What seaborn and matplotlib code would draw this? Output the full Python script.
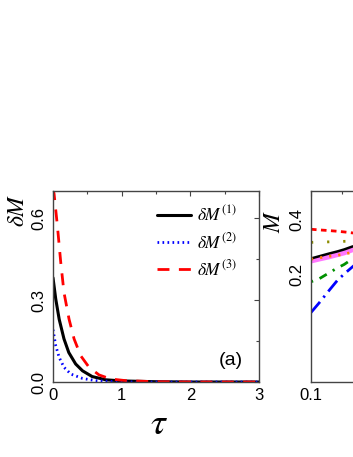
"""Relaxation of the magnetisation deviation, panel (a) plus the clipped left edge of panel (b)."""

import matplotlib
matplotlib.use("Agg")
import matplotlib.pyplot as plt
import matplotlib.ticker as mticker
import pandas as pd
import seaborn as sns


# panel (a): delta M vs tau
TAU_1 = [0.0, 0.04, 0.09, 0.16, 0.23, 0.33, 0.43, 0.57, 0.77, 1.0, 1.5, 2.0, 2.5, 3.0]
DM_1 = [0.382, 0.304, 0.23, 0.158, 0.108, 0.066, 0.041, 0.02, 0.008, 0.004, 0.001, 0.0, 0.0, 0.0]

TAU_2 = [0.0, 0.04, 0.09, 0.16, 0.26, 0.43, 0.62, 0.85, 1.2, 2.0, 3.0]
DM_2 = [0.192, 0.133, 0.09, 0.054, 0.029, 0.013, 0.005, 0.002, 0.0, 0.0, 0.0]

TAU_3 = [0.0, 0.016, 0.064, 0.113, 0.16, 0.234, 0.307, 0.404, 0.525, 0.67, 0.84, 1.06, 1.5, 2.0, 3.0]
DM_3 = [0.71, 0.689, 0.572, 0.438, 0.328, 0.23, 0.158, 0.096, 0.054, 0.026, 0.011, 0.005, 0.001, 0.0, 0.0]

# panel (b): M vs field, only the left edge is visible
B_X = [0.1, 0.12, 0.15, 0.18, 0.21, 0.25, 0.3]
M_RED = [0.355, 0.352, 0.349, 0.346, 0.343, 0.339, 0.335]
M_OLIVE = [0.300, 0.301, 0.302, 0.303, 0.304, 0.305, 0.306]
M_BLACK = [0.244, 0.251, 0.260, 0.267, 0.274, 0.284, 0.292]
M_PINK = [0.236, 0.242, 0.249, 0.256, 0.262, 0.272, 0.280]
M_ORANGE = [0.242, 0.246, 0.251, 0.254, 0.258, 0.264, 0.270]
M_GREEN = [0.181, 0.188, 0.203, 0.216, 0.226, 0.242, 0.258]
M_BLUE = [0.122, 0.138, 0.162, 0.184, 0.200, 0.218, 0.238]

SPINE = "#444444"


def style_axes(ax):
    for side in ax.spines.values():
        side.set_color(SPINE)
        side.set_linewidth(1.0)
    ax.tick_params(which="both", direction="in", top=True, right=True, color=SPINE,
                   labelsize=12, labelcolor="black", width=0.8)
    ax.tick_params(which="major", length=3.5)
    ax.tick_params(which="minor", length=2.5)
    ax.tick_params(axis="x", pad=4)
    ax.tick_params(axis="y", pad=5)


def rotate_y_labels(ax):
    for label in ax.get_yticklabels():
        label.set_rotation(90)
        label.set_va("center")


def draw_panel_a(ax):
    curves = [
        (TAU_1, DM_1, "black", r"$\delta M^{(1)}$"),
        (TAU_2, DM_2, "#0000ff", r"$\delta M^{(2)}$"),
        (TAU_3, DM_3, "#ff0000", r"$\delta M^{(3)}$"),
    ]
    for x, y, color, label in curves:
        df = pd.DataFrame({"tau": x, "dm": y})
        sns.lineplot(data=df, x="tau", y="dm", color=color, label=label, ax=ax, lw=2.2)
    lines = ax.get_lines()
    lines[1].set_dashes((0.6, 1.2))
    lines[1].set_linewidth(2.0)
    lines[2].set_dashes((4.3, 3.4))
    lines[2].set_linewidth(2.0)

    ax.set_xlim(0, 3)
    ax.set_ylim(0, 0.7)
    ax.xaxis.set_major_locator(mticker.MultipleLocator(1))
    ax.xaxis.set_minor_locator(mticker.MultipleLocator(0.5))
    ax.yaxis.set_major_locator(mticker.MultipleLocator(0.3))
    ax.yaxis.set_minor_locator(mticker.MultipleLocator(0.15))
    ax.xaxis.set_major_formatter(mticker.FormatStrFormatter("%d"))
    ax.yaxis.set_major_formatter(mticker.FormatStrFormatter("%.1f"))
    style_axes(ax)
    rotate_y_labels(ax)

    ax.set_xlabel(r"$\tau$", fontsize=27, color="black")
    ax.xaxis.label.set_va("center")
    ax.xaxis.set_label_coords(0.515, -0.22)
    ax.set_ylabel(r"$\delta M$", fontsize=17, color="black")
    ax.yaxis.label.set_va("center")
    ax.yaxis.set_label_coords(-0.17, 0.9)

    leg = ax.legend(loc="upper left", bbox_to_anchor=(0.503, 0.93), frameon=False, fontsize=12.5,
                    handlelength=2.0, handletextpad=0.3, labelspacing=0.4, borderpad=0,
                    borderaxespad=0)
    for text in leg.get_texts():
        text.set_color("black")
    ax.text(0.864, 0.11, "(a)", transform=ax.transAxes, ha="center", va="center",
            fontsize=14, color="black")


def draw_panel_b(ax):
    ax.set_xscale("log")
    ax.set_yscale("log")
    series = [
        (M_PINK, "#ff77ff", "-", 3.5),
        (M_BLACK, "black", "-", 1.8),
        (M_RED, "#ff0000", "--", 2.0),
        (M_OLIVE, "#8c8c00", ":", 2.0),
        (M_ORANGE, "#ff7f00", ":", 2.0),
        (M_GREEN, "#009000", "-.", 2.0),
        (M_BLUE, "#0000ff", "-.", 2.0),
    ]
    for y, color, ls, lw in series:
        df = pd.DataFrame({"b": B_X, "m": y})
        sns.lineplot(data=df, x="b", y="m", color=color, ax=ax, lw=lw, linestyle=ls)
    lines = ax.get_lines()
    lines[2].set_dashes((2.0, 1.6))
    lines[3].set_dashes((0.8, 5.0))
    lines[4].set_dashes((0.8, 2.5))
    lines[5].set_dashes((0.8, 2.5, 3.0, 2.5))
    lines[6].set_dashes((5.0, 2.0, 0.8, 2.0))

    ax.set_xlim(0.1, 10)
    ax.set_ylim(0.05, 0.58)
    ax.xaxis.set_major_locator(mticker.FixedLocator([0.1, 1, 10]))
    ax.xaxis.set_minor_locator(mticker.LogLocator(subs=range(2, 10)))
    ax.xaxis.set_major_formatter(mticker.FixedFormatter(["0.1", "", ""]))
    ax.xaxis.set_minor_formatter(mticker.NullFormatter())
    ax.yaxis.set_major_locator(mticker.FixedLocator([0.2, 0.4]))
    ax.yaxis.set_major_formatter(mticker.FixedFormatter(["0.2", "0.4"]))
    ax.yaxis.set_minor_locator(mticker.FixedLocator([0.06 + 0.02 * i for i in range(26)]))
    ax.yaxis.set_minor_formatter(mticker.NullFormatter())
    style_axes(ax)
    rotate_y_labels(ax)

    ax.set_xlabel("")
    ax.set_ylabel(r"$M$", fontsize=17, color="black")
    ax.yaxis.label.set_va("center")
    ax.yaxis.set_label_coords(-0.18, 0.843)


def main():
    sns.set_theme(style="white")
    plt.rcParams["font.family"] = ["Liberation Sans", "DejaVu Sans"]
    plt.rcParams["mathtext.fontset"] = "stix"

    fig = plt.figure(figsize=(3.53, 4.57), dpi=100)
    ax_a = fig.add_axes([53 / 353, 1 - 382 / 457, 206 / 353, 191 / 457])
    ax_b = fig.add_axes([311 / 353, 1 - 382 / 457, 206 / 353, 191 / 457])
    draw_panel_a(ax_a)
    draw_panel_b(ax_b)
    fig.savefig("out.png", dpi=100)
    plt.close(fig)


if __name__ == "__main__":
    main()
